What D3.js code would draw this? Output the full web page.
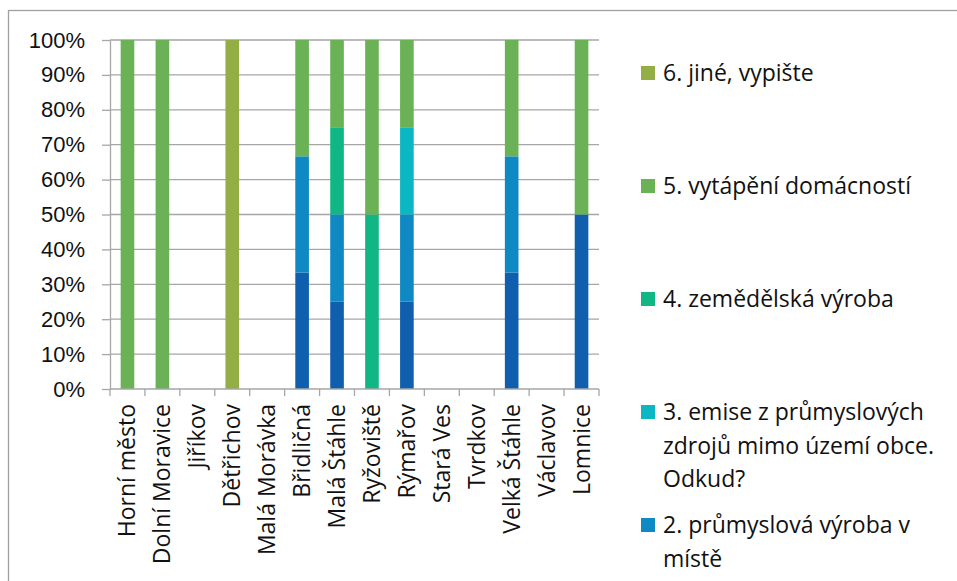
<!DOCTYPE html>
<html lang="cs">
<head>
<meta charset="UTF-8" />
<title>Zdroje znečištění</title>
<script src="https://d3js.org/d3.v7.min.js"></script>
<style>
  html, body { margin: 0; background: #fff; }
  svg { display: block; font-family: "Open Sans", sans-serif; }
  .grid line { stroke: #a6a6a6; stroke-width: 1.3; }
  .axis path, .axis line { stroke: #a6a6a6; stroke-width: 1.3; }
  .axis text, .legend text { fill: #111; }
</style>
</head>
<body>
<svg id="chart" width="957" height="581"></svg>
<script>
  // obce (kategorie)
  const towns = ['Horní město', 'Dolní Moravice', 'Jiříkov', 'Dětřichov', 'Malá Morávka',
    'Břidličná', 'Malá Štáhle', 'Ryžoviště', 'Rýmařov', 'Stará Ves', 'Tvrdkov',
    'Velká Štáhle', 'Václavov', 'Lomnice'];

  // počty odpovědí podle zdroje (řady), ve stejném pořadí jako obce
  const s1 = [0, 0, 0, 0, 0, 1, 1, 0, 1, 0, 0, 1, 0, 1];
  const s2 = [0, 0, 0, 0, 0, 1, 1, 0, 1, 0, 0, 1, 0, 0];
  const s3 = [0, 0, 0, 0, 0, 0, 0, 0, 1, 0, 0, 0, 0, 0];
  const s4 = [0, 0, 0, 0, 0, 0, 1, 1, 0, 0, 0, 0, 0, 0];
  const s5 = [1, 1, 0, 0, 0, 1, 1, 1, 1, 0, 0, 1, 0, 1];
  const s6 = [0, 0, 0, 1, 0, 0, 0, 0, 0, 0, 0, 0, 0, 0];

  const seriesKeys = ['s1', 's2', 's3', 's4', 's5', 's6'];
  const seriesColors = ['#0f5fae', '#0e89c3', '#0bb7c2', '#10b683', '#6ab255', '#93ae44'];
  // legenda (1. řada je v originále mimo výřez)
  const legendLabels = {
    s6: ['6. jiné, vypište'],
    s5: ['5. vytápění domácností'],
    s4: ['4. zemědělská výroba'],
    s3: ['3. emise z průmyslových', 'zdrojů mimo území obce.', 'Odkud?'],
    s2: ['2. průmyslová výroba v', 'místě']
  };
  const yTicks = [0, 0.1, 0.2, 0.3, 0.4, 0.5, 0.6, 0.7, 0.8, 0.9, 1];

  const svg = d3.select('#chart');
  const fontSize = 23;

  // rámeček grafu
  svg.append('rect')
    .attr('x', 8.5).attr('y', 10.5)
    .attr('width', 1000).attr('height', 700)
    .attr('fill', 'none').attr('stroke', '#a0a0a0').attr('stroke-width', 1.3);

  const margin = { left: 110, right: 599, top: 40, bottom: 389 };

  const rows = towns.map((t, i) => ({
    town: t, s1: s1[i], s2: s2[i], s3: s3[i], s4: s4[i], s5: s5[i], s6: s6[i]
  }));

  const stack = d3.stack().keys(seriesKeys).offset(d3.stackOffsetExpand);
  const stacked = stack(rows);

  const x = d3.scaleBand()
    .domain(towns)
    .range([margin.left, margin.right])
    .paddingInner(0.61)
    .paddingOuter(0.305);

  const xTicks = d3.scaleBand().domain(towns).range([margin.left, margin.right]);

  const y = d3.scaleLinear().domain([0, 1]).range([margin.bottom, margin.top]);

  // mřížka
  svg.append('g').attr('class', 'grid')
    .selectAll('line').data(yTicks.slice(1)).join('line')
    .attr('x1', margin.left).attr('x2', margin.right)
    .attr('y1', d => y(d)).attr('y2', d => y(d));

  // sloupce
  svg.append('g').selectAll('g').data(stacked).join('g')
    .attr('fill', (d, i) => seriesColors[i])
    .selectAll('rect')
    .data(d => d.filter(v => !isNaN(v[1]) && v[1] > v[0]))
    .join('rect')
    .attr('x', d => x(d.data.town))
    .attr('width', x.bandwidth())
    .attr('y', d => y(d[1]))
    .attr('height', d => y(d[0]) - y(d[1]));

  // osa y
  const yAxis = svg.append('g').attr('class', 'axis')
    .attr('transform', `translate(${margin.left},0)`)
    .call(d3.axisLeft(y).tickValues(yTicks).tickFormat(d3.format('.0%'))
      .tickSize(8).tickSizeOuter(0).tickPadding(17));
  yAxis.selectAll('text').style('font-size', '22px').attr('font-family', null);

  // osa x
  const xAxis = svg.append('g').attr('class', 'axis')
    .attr('transform', `translate(0,${margin.bottom})`);
  xAxis.append('line')
    .attr('x1', margin.left).attr('x2', margin.right);
  xAxis.selectAll('line.tick').data(d3.range(towns.length + 1)).join('line')
    .attr('class', 'tick')
    .attr('x1', i => margin.left + i * xTicks.step())
    .attr('x2', i => margin.left + i * xTicks.step())
    .attr('y1', 0).attr('y2', 7);
  xAxis.selectAll('text').data(towns).join('text')
    .attr('transform', d => `translate(${xTicks(d) + xTicks.bandwidth() / 2 + 8},15) rotate(-90)`)
    .attr('text-anchor', 'end')
    .style('font-size', fontSize + 'px')
    .text(d => d);

  // legenda
  const legendKeys = ['s6', 's5', 's4', 's3', 's2'];
  const legend = svg.append('g').attr('class', 'legend');
  legendKeys.forEach((k, i) => {
    const top = 73 + i * 113;
    const g = legend.append('g').attr('transform', `translate(641,${top})`);
    g.append('rect')
      .attr('x', 0).attr('y', -7).attr('width', 14).attr('height', 14)
      .attr('fill', seriesColors[seriesKeys.indexOf(k)]);
    g.selectAll('text').data(legendLabels[k]).join('text')
      .attr('x', 22)
      .attr('y', (d, j) => j * 33.5)
      .attr('dy', '0.35em')
      .style('font-size', fontSize + 'px')
      .text(d => d);
  });
</script>
</body>
</html>
